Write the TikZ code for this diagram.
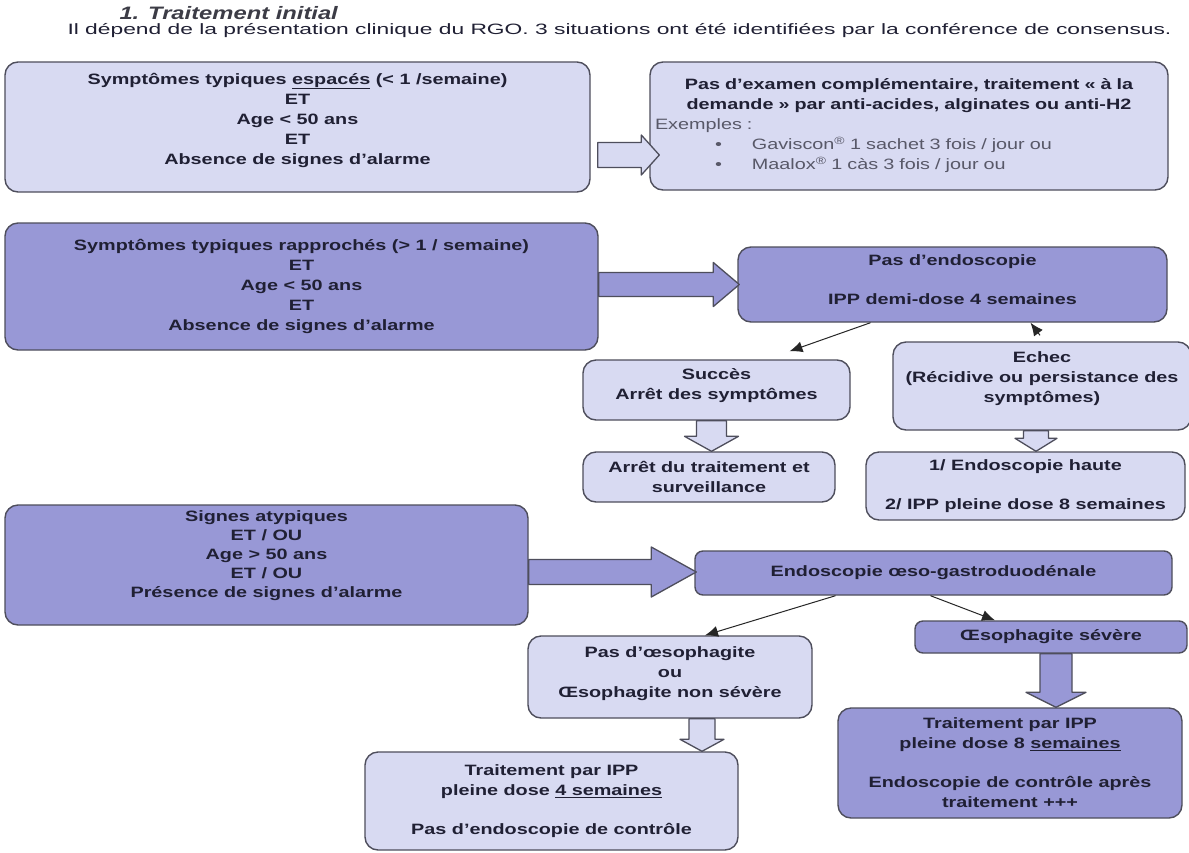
\documentclass[tikz,border=0pt]{standalone}
\usepackage{fontspec}
\setmainfont[FakeStretch=1.32]{Liberation Sans}
\newfontfamily\introfont[FakeStretch=1.52]{Liberation Sans}
\usepackage{tikz}
\usetikzlibrary{calc,arrows.meta}
\definecolor{boxlight}{RGB}{216,218,242}
\definecolor{boxdark}{RGB}{152,152,214}
\definecolor{edge}{RGB}{78,78,92}
\definecolor{ink}{RGB}{32,32,52}
\definecolor{exgray}{RGB}{88,88,104}
\definecolor{titlegray}{RGB}{60,60,70}

\tikzset{
  box/.style={draw=edge, line width=1.4pt, rounded corners=13pt, inner sep=0pt,
    align=center, text=ink, font=\fontsize{15}{20}\selectfont\bfseries},
  lightbox/.style={box, fill=boxlight},
  darkbox/.style={box, fill=boxdark},
  fatlight/.style={fill=boxlight, draw=edge, line width=1.3pt, line join=round},
  fatdark/.style={fill=boxdark, draw=edge, line width=1.3pt, line join=round},
  thinarr/.style={draw=black!85, line width=1pt, -{Latex[length=13pt,width=11pt]}}
}

% block arrows: style, from, to, shaft half width, head half width, head length
\newcommand{\blockright}[6]{%
  \path[#1] let \p1=(#2), \p2=(#3) in
    (\x1,\y1+#4pt) -- (\x2-#6pt,\y1+#4pt) -- (\x2-#6pt,\y1+#5pt) -- (\x2,\y1)
    -- (\x2-#6pt,\y1-#5pt) -- (\x2-#6pt,\y1-#4pt) -- (\x1,\y1-#4pt) -- cycle;}
\newcommand{\blockdown}[6]{%
  \path[#1] let \p1=(#2), \p2=(#3) in
    (\x1-#4pt,\y1) -- (\x1-#4pt,\y2+#6pt) -- (\x1-#5pt,\y2+#6pt) -- (\x1,\y2)
    -- (\x1+#5pt,\y2+#6pt) -- (\x1+#4pt,\y2+#6pt) -- (\x1+#4pt,\y1) -- cycle;}

\begin{document}
\begin{tikzpicture}[x=1pt,y=-1pt]
  \useasboundingbox[fill=white] (0,0) rectangle (1189,852);

  \node[anchor=west, text=titlegray, font=\fontsize{18}{22}\selectfont\bfseries\itshape] (title) at (116,13) {1. Traitement initial};
  \node[anchor=west, text=ink, font=\fontsize{15}{17}\introfont] (intro) at (64,31) {Il dépend de la présentation clinique du RGO. 3 situations ont été identifiées par la conférence de consensus.};

  % first situation
  \node[lightbox, minimum width=585, minimum height=130, text depth=17pt] (sym1) at (297.5,127)
    {Symptômes typiques \underline{espacés} (< 1 /semaine)\\ET\\Age < 50 ans\\ET\\Absence de signes d’alarme};
  \node[lightbox, minimum width=518, minimum height=128, text width=508, align=left] (trt1) at (909,126) {%
    {\centering Pas d’examen complémentaire, traitement « à la\\demande » par anti-acides, alginates ou anti-H2\par}%
    {\mdseries\color{exgray}Exemples :\\
    \hspace*{60pt}•\hspace*{30pt}Gaviscon\textsuperscript{®} 1 sachet 3 fois / jour ou\\
    \hspace*{60pt}•\hspace*{30pt}Maalox\textsuperscript{®} 1 càs 3 fois / jour ou}};
  \blockright{fatlight}{$(sym1.east)+(7,28)$}{$(trt1.west)+(10,29)$}{12.5}{20}{18}

  % second situation
  \node[darkbox, minimum width=593, minimum height=127] (sym2) at (301.5,286.5)
    {Symptômes typiques rapprochés (> 1 / semaine)\\ET\\Age < 50 ans\\ET\\Absence de signes d’alarme};
  \node[darkbox, minimum width=429, minimum height=75, text depth=9pt] (noendo) at (952.5,284.5)
    {Pas d’endoscopie\\[19pt]IPP demi-dose 4 semaines};
  \node[lightbox, minimum width=267, minimum height=60, text depth=13pt] (succes) at (716.5,390)
    {Succès\\Arrêt des symptômes};
  \node[lightbox, minimum width=298, minimum height=88, text depth=17pt] (echec) at (1042,386)
    {Echec\\(Récidive ou persistance des\\symptômes)};
  \node[lightbox, minimum width=252, minimum height=50] (arret) at (709,477)
    {Arrêt du traitement et\\surveillance};
  \node[lightbox, minimum width=319, minimum height=68] (endoh) at (1025.5,486)
    {1/ Endoscopie haute\\[19pt]2/ IPP pleine dose 8 semaines};
  \blockright{fatdark}{$(sym2.east)+(0,-2)$}{$(noendo.west)+(2,0)$}{12}{22}{26}
  \draw[thinarr] ($(noendo.south)+(-82,0)$) -- ($(succes.north)+(73,-8)$);
  \coordinate (echtip) at ($(echec.north)+(-2,-6)$);
  \draw[thinarr] (echtip) -- ($(noendo.south)+(78,0)$);
  \blockdown{fatlight}{$(succes.south)+(-5,0)$}{arret.north}{15}{27}{15}
  \blockdown{fatlight}{$(echec.south)+(-6,0)$}{endoh.north}{12.5}{21}{13}

  % third situation
  \node[darkbox, font=\fontsize{15}{19}\selectfont\bfseries, minimum width=523, minimum height=120, text depth=21pt] (sym3) at (266.5,565)
    {Signes atypiques\\ET / OU\\Age > 50 ans\\ET / OU\\Présence de signes d’alarme};
  \node[darkbox, rounded corners=8pt, minimum width=477, minimum height=44] (endo) at (933.5,573)
    {Endoscopie œso-gastroduodénale};
  \node[darkbox, rounded corners=8pt, minimum width=272, minimum height=32] (oesosev) at (1051,637)
    {Œsophagite sévère};
  \node[lightbox, minimum width=284, minimum height=82, text depth=9pt] (pasoeso) at (670,677)
    {Pas d’œsophagite\\ou\\Œsophagite non sévère};
  \node[lightbox, minimum width=373, minimum height=98] (trt4) at (551.5,801)
    {Traitement par IPP\\pleine dose \underline{4 semaines}\\[19pt]Pas d’endoscopie de contrôle};
  \node[darkbox, minimum width=344, minimum height=110] (trt8) at (1010,763)
    {Traitement par IPP\\pleine dose 8 \underline{semaines}\\[19pt]Endoscopie de contrôle après\\traitement +++};
  \blockright{fatdark}{$(sym3.east)+(0,7)$}{$(endo.west)+(2,-1)$}{12.5}{25}{45}
  \draw[thinarr] ($(endo.south)+(-98,0)$) -- ($(pasoeso.north)+(35,0)$);
  \draw[thinarr] ($(endo.south)+(-3,0)$) -- ($(oesosev.north)+(-56,0)$);
  \blockdown{fatlight}{$(pasoeso.south)+(32,0)$}{trt4.north}{13}{22}{12}
  \blockdown{fatdark}{$(oesosev.south)+(5,0)$}{trt8.north}{16}{30}{15}
\end{tikzpicture}
\end{document}
